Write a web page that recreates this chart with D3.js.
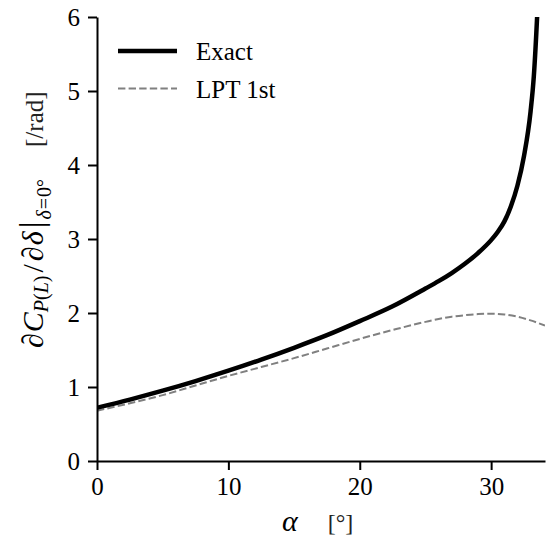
<!DOCTYPE html>
<html>
<head>
<meta charset="utf-8">
<script src="https://cdn.jsdelivr.net/npm/d3@7"></script>
<style>
  body { margin: 0; background: #fff; }
  svg text { font-family: "Liberation Serif", "Times New Roman", "DejaVu Serif", serif; }
</style>
</head>
<body>
<svg id="chart" width="547" height="549"></svg>
<script>
// values
const alphaExact = [0, 2.5, 5, 7.5, 10, 12.5, 15, 17.5, 20, 22.5, 25, 26, 27, 28, 29, 30, 30.5, 31, 31.5, 32, 32.5, 33, 33.25, 33.5, 33.65];
const exactVals = [0.72, 0.83, 0.95, 1.08, 1.22, 1.37, 1.53, 1.70, 1.89, 2.09, 2.33, 2.43, 2.54, 2.665, 2.81, 2.985, 3.095, 3.235, 3.44, 3.72, 4.12, 4.72, 5.2, 6.0, 6.6];
const alphaLpt = [0, 2.5, 5, 7.5, 10, 12.5, 15, 17.5, 20, 22.5, 25, 27, 28, 29, 30, 31, 32, 33, 34.1];
const lptVals = [0.68, 0.78, 0.89, 1.02, 1.15, 1.27, 1.39, 1.52, 1.65, 1.77, 1.88, 1.95, 1.97, 1.985, 1.99, 1.98, 1.95, 1.90, 1.83];
const xTicks = [0, 10, 20, 30];
const yTicks = [0, 1, 2, 3, 4, 5, 6];
const legendLabels = ["Exact", "LPT 1st"];

const serif = "'Liberation Serif', 'Times New Roman', 'DejaVu Serif', serif";
const svg = d3.select("#chart");
const m = { left: 97, top: 17, right: 2, bottom: 88 };
const W = 547, H = 549;
const x = d3.scaleLinear().domain([0, 34.1]).range([m.left, W - m.right]);
const y = d3.scaleLinear().domain([0, 6]).range([H - m.bottom, m.top]);

svg.append("clipPath").attr("id", "clip")
  .append("rect")
  .attr("x", m.left).attr("y", m.top)
  .attr("width", W - m.right - m.left).attr("height", H - m.bottom - m.top);

const line = d3.line().x(d => x(d[0])).y(d => y(d[1])).curve(d3.curveMonotoneX);

const plot = svg.append("g").attr("clip-path", "url(#clip)");
plot.append("path")
  .datum(d3.zip(alphaLpt, lptVals))
  .attr("d", line)
  .attr("fill", "none")
  .attr("stroke", "#808080")
  .attr("stroke-width", 2)
  .attr("stroke-dasharray", "7.4,3.2");
plot.append("path")
  .datum(d3.zip(alphaExact, exactVals))
  .attr("d", line)
  .attr("fill", "none")
  .attr("stroke", "#000")
  .attr("stroke-width", 4.5);

// axes
const xAxis = svg.append("g")
  .attr("transform", `translate(0,${y(0)})`)
  .call(d3.axisBottom(x).tickValues(xTicks).tickFormat(d3.format("d"))
    .tickSize(9).tickPadding(7).tickSizeOuter(0));
const yAxis = svg.append("g")
  .attr("transform", `translate(${x(0)},0)`)
  .call(d3.axisLeft(y).tickValues(yTicks).tickFormat(d3.format("d"))
    .tickSize(9).tickPadding(8).tickSizeOuter(0));
[xAxis, yAxis].forEach(a => {
  a.attr("font-family", serif).attr("font-size", 25);
  a.select(".domain").attr("stroke-width", 2);
  a.selectAll(".tick line").attr("stroke-width", 2);
  a.selectAll(".tick text").attr("fill", "#000");
});

// legend
const leg = svg.append("g").attr("font-family", serif);
const legStyles = [
  { stroke: "#000", w: 4.5, dash: null },
  { stroke: "#808080", w: 2, dash: "7.4,3.2" }
];
legendLabels.forEach((lab, i) => {
  const yy = 51 + i * 37.5;
  leg.append("line")
    .attr("x1", 118).attr("x2", 177).attr("y1", yy).attr("y2", yy)
    .attr("stroke", legStyles[i].stroke)
    .attr("stroke-width", legStyles[i].w)
    .attr("stroke-dasharray", legStyles[i].dash);
  leg.append("text")
    .attr("x", 196).attr("y", yy + 9)
    .attr("font-size", 25)
    .text(lab);
});

// x label
const xl = svg.append("text")
  .attr("x", 282).attr("y", 531)
  .attr("font-family", serif)
  .attr("font-size", 30);
xl.append("tspan").attr("font-style", "italic").text("α");
xl.append("tspan").attr("dx", 30).attr("font-size", 24).attr("fill", "#222").text("[°]");

// y label
const yl = svg.append("text")
  .attr("transform", "translate(43,348) rotate(-90)")
  .attr("font-family", serif)
  .attr("font-size", 30);
yl.append("tspan").text("∂");
yl.append("tspan").attr("dx", 1).attr("font-style", "italic").text("C");
yl.append("tspan").attr("font-size", 20).attr("dy", 5).attr("font-style", "italic").text("P");
yl.append("tspan").attr("font-size", 20).text("(");
yl.append("tspan").attr("font-size", 20).attr("font-style", "italic").text("L");
yl.append("tspan").attr("font-size", 20).text(")");
yl.append("tspan").attr("dy", -5).attr("dx", 3).text("/");
yl.append("tspan").attr("dx", 3).text("∂");
yl.append("tspan").attr("dx", 1).attr("font-style", "italic").text("δ");
yl.append("tspan").attr("font-size", 34).attr("dx", 3).text("|");
yl.append("tspan").attr("font-size", 20).attr("dy", 8).attr("dx", 2).attr("font-style", "italic").text("δ");
yl.append("tspan").attr("font-size", 20).attr("dx", 1).text("=");
yl.append("tspan").attr("font-size", 20).attr("dx", 1).text("0°");
yl.append("tspan").attr("dy", -8).attr("dx", 32).attr("font-size", 25).attr("fill", "#222").text("[/rad]");
</script>
</body>
</html>
